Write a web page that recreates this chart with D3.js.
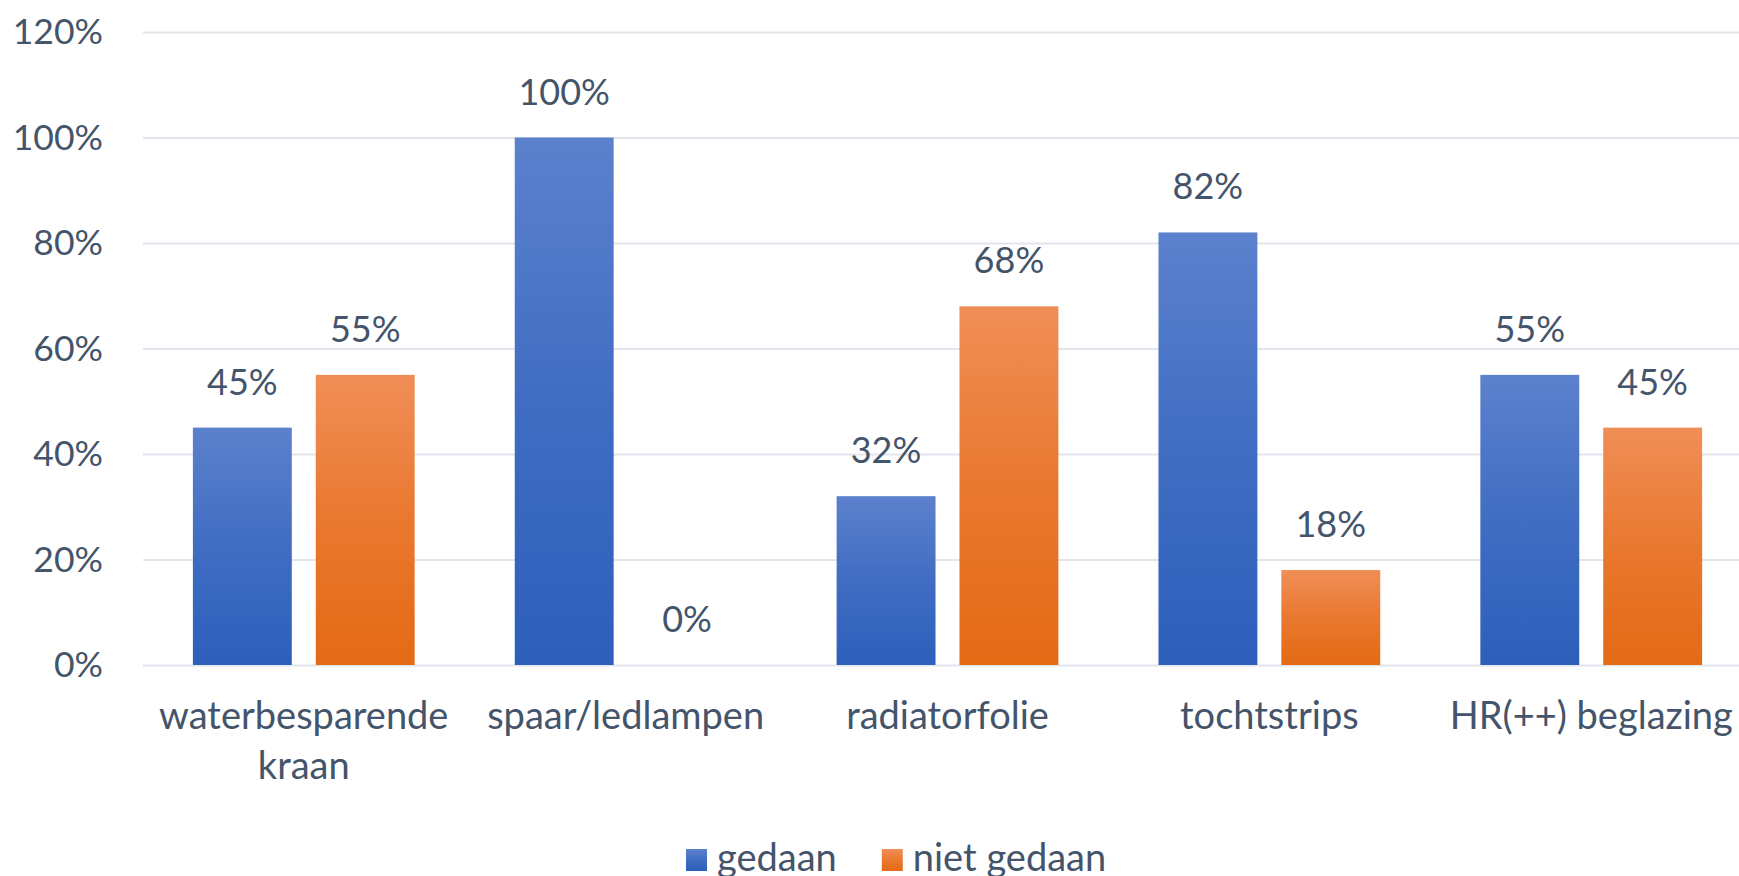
<!DOCTYPE html>
<html>
<head>
<meta charset="utf-8">
<script src="https://cdn.jsdelivr.net/npm/d3@7"></script>
<style>
  body { margin: 0; background: #fff; }
  text { font-family: Lato, "Open Sans", sans-serif; fill: #44546A; }
</style>
</head>
<body>
<div id="chart"></div>
<script>
// values
const categories = ["waterbesparende kraan", "spaar/ledlampen", "radiatorfolie", "tochtstrips", "HR(++) beglazing"];
const seriesNames = ["gedaan", "niet gedaan"];
const gedaan = [0.45, 1.00, 0.32, 0.82, 0.55];
const nietGedaan = [0.55, 0.00, 0.68, 0.18, 0.45];
const yTicks = [0, 0.2, 0.4, 0.6, 0.8, 1.0, 1.2];

const dims = { width: 1739, height: 876, left: 143, right: 1752, top: 32, bottom: 665 };
const numSize = 35.5;   // tick + value labels
const labelSize = 38;   // category + legend labels

// gradient colours per series: [top, bottom]
const gradColors = [["#5C81CD", "#2D5FBB"], ["#F08E57", "#E46A15"]];

const data = categories.map((c, i) => ({ category: c, values: [gedaan[i], nietGedaan[i]] }));

const x0 = d3.scaleBand()
    .domain(categories)
    .range([dims.left, dims.right])
    .paddingInner(0.311)
    .paddingOuter(0.155);

const x1 = d3.scaleBand()
    .domain(seriesNames)
    .range([0, x0.bandwidth()])
    .paddingInner(0.195);

const y = d3.scaleLinear()
    .domain([0, 1.2])
    .range([dims.bottom, dims.top]);

const svg = d3.select("#chart")
    .append("svg")
    .attr("width", dims.width)
    .attr("height", dims.height);

// vertical gradients for bars
const defs = svg.append("defs");
seriesNames.forEach((s, i) => {
    const g = defs.append("linearGradient")
        .attr("id", "grad" + i)
        .attr("x1", 0).attr("y1", 0).attr("x2", 0).attr("y2", 1);
    g.append("stop").attr("offset", "0%").attr("stop-color", gradColors[i][0]);
    g.append("stop").attr("offset", "50%").attr("stop-color", d3.interpolateRgb(gradColors[i][0], gradColors[i][1])(0.6));
    g.append("stop").attr("offset", "100%").attr("stop-color", gradColors[i][1]);
});

// y axis with gridlines
svg.append("g")
    .attr("transform", `translate(${dims.left},0)`)
    .call(d3.axisLeft(y)
        .tickValues(yTicks)
        .tickFormat(d3.format(".0%"))
        .tickSize(-(dims.width - dims.left))
        .tickPadding(40))
    .call(g => g.select(".domain").remove())
    .call(g => g.selectAll(".tick line").attr("stroke", "#E2E5EB").attr("stroke-width", 2))
    .call(g => g.selectAll(".tick text")
        .attr("font-size", numSize)
        .attr("dy", "0.33em")
        .style("font-family", "Lato, sans-serif")
        .attr("fill", "#44546A"));

// bars
const groups = svg.append("g")
    .selectAll("g")
    .data(data)
    .join("g")
    .attr("transform", d => `translate(${x0(d.category)},0)`);

groups.selectAll("rect")
    .data(d => d.values.map((v, i) => ({ key: seriesNames[i], i, v })))
    .join("rect")
    .attr("x", d => x1(d.key))
    .attr("y", d => y(d.v))
    .attr("width", x1.bandwidth())
    .attr("height", d => y(0) - y(d.v))
    .attr("fill", d => `url(#grad${d.i})`);

// value labels
groups.selectAll("text")
    .data(d => d.values.map((v, i) => ({ key: seriesNames[i], i, v })))
    .join("text")
    .attr("text-anchor", "middle")
    .attr("x", d => x1(d.key) + x1.bandwidth() / 2)
    .attr("y", d => y(d.v) - 33)
    .attr("font-size", 36)
    .text(d => d3.format(".0%")(d.v));

// x axis labels (wrapped)
svg.append("g")
    .attr("transform", `translate(0,${dims.bottom})`)
    .call(d3.axisBottom(x0).tickSize(0).tickPadding(0))
    .call(g => g.select(".domain").remove())
    .call(g => g.selectAll(".tick text")
        .attr("font-size", labelSize)
        .attr("y", 64)
        .attr("dy", 0)
        .style("font-family", "Lato, sans-serif")
        .attr("fill", "#44546A")
        .call(wrap, x0.step()));

function wrap(texts, width) {
    texts.each(function () {
        const text = d3.select(this);
        const words = text.text().split(/\s+/);
        const yPos = text.attr("y");
        text.text(null);
        let line = [];
        let lineNo = 0;
        let tspan = text.append("tspan").attr("x", 0).attr("y", yPos);
        words.forEach(w => {
            line.push(w);
            tspan.text(line.join(" "));
            if (tspan.node().getComputedTextLength() > width && line.length > 1) {
                line.pop();
                tspan.text(line.join(" "));
                line = [w];
                lineNo++;
                tspan = text.append("tspan").attr("x", 0).attr("y", yPos).attr("dy", lineNo * 50).text(w);
            }
        });
    });
}

// legend
const legend = svg.append("g").attr("transform", "translate(686,849)");
let lx = 0;
seriesNames.forEach((s, i) => {
    const item = legend.append("g").attr("transform", `translate(${lx},0)`);
    item.append("rect")
        .attr("width", 21).attr("height", 22)
        .attr("fill", `url(#grad${i})`);
    const t = item.append("text")
        .attr("x", 31).attr("y", 22)
        .attr("font-size", labelSize)
        .text(s);
    lx += 31 + t.node().getComputedTextLength() + 45;
});
</script>
</body>
</html>
